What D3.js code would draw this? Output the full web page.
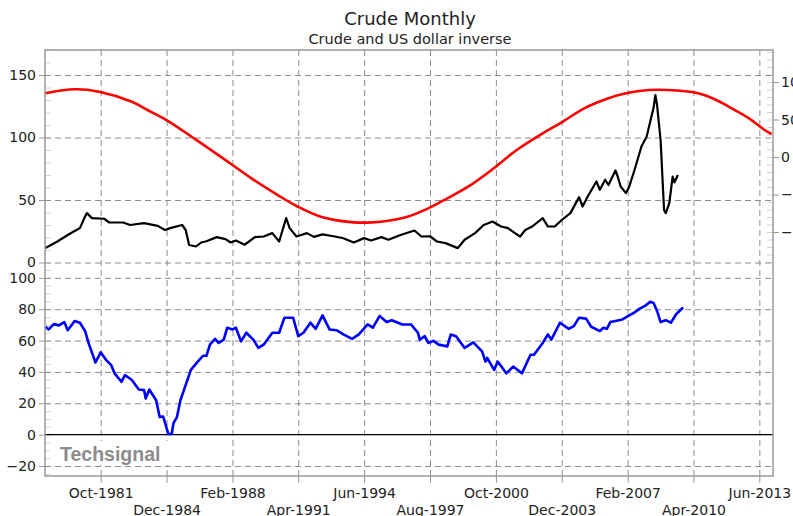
<!DOCTYPE html>
<html>
<head>
<meta charset="utf-8">
<script src="https://cdn.jsdelivr.net/npm/d3@7"></script>
<style>
body { margin: 0; background: #fff; }
svg { display: block; font-family: "DejaVu Sans", Verdana, sans-serif; }
</style>
</head>
<body>
<svg id="chart" width="793" height="516"></svg>
<script>
// crude oil, monthly (left axis, upper panel)
const crudeDates = ["1979-02","1979-09","1980-03","1980-08","1980-10","1981-01","1981-02","1981-05","1981-12","1982-03",
  "1982-11","1983-03","1983-11","1984-07","1984-11","1985-02","1985-09","1985-11","1986-01","1986-05",
  "1986-08","1986-11","1987-05","1987-10","1988-01","1988-04","1988-09","1989-03","1989-08","1990-01",
  "1990-05","1990-09","1990-11","1991-03","1991-09","1992-01","1992-06","1993-01","1993-06","1993-12",
  "1994-06","1994-10","1995-04","1995-08","1996-03","1996-11","1997-03","1997-08","1997-12","1998-05",
  "1998-12","1999-04","1999-10","2000-03","2000-08","2001-01","2001-05","2001-09","2001-12","2002-03",
  "2002-07","2003-01","2003-04","2003-08","2003-12","2004-05","2004-10","2004-12","2005-03","2005-08",
  "2005-10","2006-01","2006-03","2006-07","2006-08","2006-10","2007-01","2007-03","2007-06","2007-10",
  "2008-01","2008-05","2008-06","2008-07","2008-09","2008-11","2008-12","2009-02","2009-04","2009-05","2009-07"];
const crudeValues = [11.5,16.8,22,26,27.5,37,39.5,35.5,35,32,
  32,30,31.5,29.3,26,27.5,30,26,14,12.8,
  16,17,20.3,18.7,16,17.6,14.2,20.3,20.8,23.5,
  16.8,35.5,27.5,20.8,23.5,20.5,22.5,20.8,19.4,16,
  19.5,17.6,20.3,18.2,22,25.6,20.8,21,16.8,15.5,
  11.5,18.2,23.5,30,32.8,28.8,27.5,23.5,20.8,26,
  28.8,35.5,28.8,28.8,34,39.5,52.3,44.8,52.8,64.8,
  58.2,66.2,62,73.6,70,60.8,55.5,60.8,74,92.8,
  100.8,124,134,126,98,42,39.5,47.5,68.8,64,70];

// US dollar inverse (right axis, upper panel)
const usdDates = ["1979-02","1980-07","1981-09","1983-04","1984-01","1984-11","1986-06","1988-01","1989-01","1990-04",
  "1991-03","1992-05","1993-12","1994-11","1995-08","1996-07","1997-07","1998-06","1999-06","2000-08",
  "2001-10","2003-01","2003-11","2005-01","2006-03","2007-01","2008-02","2009-01","2010-06","2011-04",
  "2012-02","2012-12","2013-09","2014-01"];
const usdValues = [85,90.3,87.1,73.7,62.7,50.5,21.5,-9,-28.5,-50.5,
  -65.3,-79.6,-87.1,-87.1,-84.9,-79.6,-68.4,-55.1,-39.6,-16.4,
  9.3,31.6,44.9,64.9,78.3,84.9,89.3,89.3,85.3,77.3,
  64.9,51.6,36,30.7];

// Techsignal indicator (lower panel)
const oscDates = ["1979-02","1979-04","1979-07","1979-10","1980-01","1980-03","1980-07","1980-10","1981-01","1981-03",
  "1981-07","1981-10","1982-01","1982-04","1982-06","1982-10","1982-12","1983-04","1983-08","1983-11",
  "1983-12","1984-02","1984-06","1984-08","1984-10","1985-01","1985-03","1985-04","1985-06","1985-08",
  "1985-10","1986-02","1986-06","1986-09","1986-11","1987-01","1987-04","1987-06","1987-09","1987-11",
  "1988-02","1988-04","1988-07","1988-10","1989-02","1989-05","1989-08","1990-01","1990-05","1990-08",
  "1991-01","1991-04","1991-07","1991-11","1992-02","1992-06","1992-10","1993-02","1993-06","1993-11",
  "1994-03","1994-08","1994-11","1995-03","1995-07","1995-10","1996-04","1996-09","1997-01","1997-02",
  "1997-05","1997-07","1997-10","1998-01","1998-06","1998-08","1998-11","1999-04","1999-09","2000-02",
  "2000-04","2000-05","2000-09","2000-11","2001-04","2001-08","2002-01","2002-06","2002-08","2003-01",
  "2003-04","2003-06","2003-11","2004-04","2004-07","2004-10","2005-02","2005-05","2005-10","2005-12",
  "2006-02","2006-04","2006-07","2006-11","2007-03","2007-06","2007-09","2007-12","2008-03","2008-05",
  "2008-07","2008-09","2008-12","2009-03","2009-06","2009-10"];
const oscValues = [68.8,67.1,70.5,69.7,71.8,66.6,72.5,71.4,66,58.5,
  46,52.5,47.7,44.5,39.1,33.7,38,34.8,28.8,28.4,
  23,28.8,21.9,11.2,11.6,0.4,0.4,7.3,11.2,21.9,
  28.4,41.3,46.6,50.3,50.3,57.4,61.1,58.5,60.6,68.2,
  67.1,68.2,59.5,65,60.6,55.3,57.4,65,65,74.6,
  74.6,62.8,65,71.4,67.5,76.1,67.1,66.6,63.9,61.1,
  63.9,70.3,68.2,75.7,71.8,73,70.3,70.3,65,60.6,
  62.8,58.5,59.8,57.4,56.3,63.9,62.8,55.3,58.9,53.1,
  46.6,48.9,41.3,46.6,39.1,43.4,39.1,51,51,58.5,
  63.9,60.6,71.4,67.5,69.2,74.6,74,68.8,66,68.2,
  67.5,71.8,72.5,73.5,76.1,77.9,80.4,82.1,84.7,84,
  78.9,71.8,73,71.4,76.8,81.1];

const xTickDates = ["1981-10","1984-12","1988-02","1991-04","1994-06","1997-08","2000-10","2003-12","2007-02","2010-04","2013-06"];
const xTickLabels = ["Oct-1981","Dec-1984","Feb-1988","Apr-1991","Jun-1994","Aug-1997","Oct-2000","Dec-2003","Feb-2007","Apr-2010","Jun-2013"];
const upperTicks = [0, 50, 100, 150];
const lowerTicks = [-20, 0, 20, 40, 60, 80, 100];
const rightTicks = [-100, -50, 0, 50, 100];

const parse = d3.timeParse("%Y-%m");
const pLeft = 45, pRight = 773, pTop = 50, pBottom = 476, pSplit = 268;

const svg = d3.select("#chart");
svg.append("rect").attr("width", 793).attr("height", 516).attr("fill", "#fff");

const x = d3.scaleTime().domain([new Date(1979, 0, 27), new Date(2014, 0, 27)]).range([pLeft, pRight]);
const yTop = d3.scaleLinear().domain([-4.4, 170]).range([pSplit, pTop]);
const yRight = d3.scaleLinear().domain([-148, 142.7]).range([pSplit, pTop]);
const yLow = d3.scaleLinear().domain([-26.4, 106.3]).range([pBottom, pSplit]);

const gridColor = "#8c8c8c";

// minor ticks, inside the frame
function minor(scale, values, side) {
  const g = svg.append("g")
    .attr("transform", `translate(${side === "left" ? pLeft : pRight},0)`)
    .call((side === "left" ? d3.axisRight(scale) : d3.axisLeft(scale))
      .tickValues(values).tickSize(6).tickFormat(""));
  g.select(".domain").remove();
  g.selectAll("line").attr("stroke", "#d4d4d4");
}
minor(yTop, d3.range(0, 171, 10), "left");
minor(yLow, d3.range(-25, 106, 5), "left");
minor(yRight, d3.range(-140, 141, 10), "right");

// horizontal grid
function hgrid(scale, values) {
  const g = svg.append("g")
    .attr("transform", `translate(${pLeft},0)`)
    .call(d3.axisRight(scale).tickValues(values).tickSize(pRight - pLeft).tickFormat(""));
  g.select(".domain").remove();
  g.selectAll("line").attr("stroke", gridColor).attr("stroke-dasharray", "6,4");
}
hgrid(yTop, upperTicks);
hgrid(yLow, lowerTicks.filter(d => d !== 0));

// vertical grid
const vg = svg.append("g")
  .attr("transform", `translate(0,${pBottom})`)
  .call(d3.axisBottom(x).tickValues(xTickDates.map(parse)).tickSize(-(pBottom - pTop)).tickFormat(""));
vg.select(".domain").remove();
vg.selectAll("line").attr("stroke", gridColor).attr("stroke-dasharray", "6,4");

// zero line of the lower panel
svg.append("line")
  .attr("x1", pLeft).attr("x2", pRight)
  .attr("y1", yLow(0)).attr("y2", yLow(0))
  .attr("stroke", "#000").attr("stroke-width", 1.2);

// watermark
svg.append("rect").attr("x", 50).attr("y", 441).attr("width", 131).attr("height", 24).attr("fill", "#fff");
svg.append("text")
  .attr("x", 60).attr("y", 461)
  .style("font-family", "'Liberation Sans', Arial, sans-serif")
  .style("font-weight", "bold")
  .style("font-size", "19.5px")
  .attr("fill", "#8c8c8c")
  .text("Techsignal");

// series
const usdLine = d3.line().x(d => x(d[0])).y(d => yRight(d[1])).curve(d3.curveCatmullRom);
svg.append("path")
  .datum(usdDates.map((d, i) => [parse(d), usdValues[i]]))
  .attr("d", usdLine)
  .attr("fill", "none").attr("stroke", "#ff0000").attr("stroke-width", 2.6);

const crudeLine = d3.line().x(d => x(d[0])).y(d => yTop(d[1]));
svg.append("path")
  .datum(crudeDates.map((d, i) => [parse(d), crudeValues[i]]))
  .attr("d", crudeLine)
  .attr("fill", "none").attr("stroke", "#000").attr("stroke-width", 2.2)
  .attr("stroke-linejoin", "round");

const oscLine = d3.line().x(d => x(d[0])).y(d => yLow(d[1]));
svg.append("path")
  .datum(oscDates.map((d, i) => [parse(d), oscValues[i]]))
  .attr("d", oscLine)
  .attr("fill", "none").attr("stroke", "#0000ff").attr("stroke-width", 2.6)
  .attr("stroke-linejoin", "round");

// frame
svg.append("rect")
  .attr("x", pLeft).attr("y", pTop)
  .attr("width", pRight - pLeft).attr("height", pBottom - pTop)
  .attr("fill", "none").attr("stroke", "#999").attr("stroke-width", 1.5);

// left axes
function leftAxis(scale, values) {
  const g = svg.append("g")
    .attr("transform", `translate(${pLeft},0)`)
    .call(d3.axisLeft(scale).tickValues(values).tickSize(6).tickPadding(3));
  g.select(".domain").remove();
  g.selectAll("line").attr("stroke", "#999");
  g.selectAll("text").attr("fill", "#222").style("font-size", "14px").style("font-family", "'DejaVu Sans', Verdana, sans-serif");
}
leftAxis(yTop, upperTicks);
leftAxis(yLow, lowerTicks);

// right axis (labels run off the page edge, as in the source)
const ra = svg.append("g")
  .attr("transform", `translate(${pRight},0)`)
  .call(d3.axisRight(yRight).tickValues(rightTicks).tickSize(6).tickPadding(2));
ra.select(".domain").remove();
ra.selectAll("line").attr("stroke", "#999");
ra.selectAll("text").attr("fill", "#222").style("font-size", "14px").style("font-family", "'DejaVu Sans', Verdana, sans-serif");

// bottom axis, labels on two rows
const xa = svg.append("g")
  .attr("transform", `translate(0,${pBottom})`)
  .call(d3.axisBottom(x).tickValues(xTickDates.map(parse)).tickSize(7)
    .tickFormat((d, i) => xTickLabels[i]));
xa.select(".domain").remove();
xa.selectAll("line").attr("stroke", "#999");
xa.selectAll("text")
  .attr("fill", "#222")
  .style("font-size", "14px")
  .style("font-family", "'DejaVu Sans', Verdana, sans-serif")
  .attr("dy", null)
  .attr("y", (d, i) => i % 2 === 0 ? 22 : 39);

// titles
svg.append("text")
  .attr("x", 410).attr("y", 25)
  .attr("text-anchor", "middle")
  .attr("fill", "#222")
  .style("font-size", "18px")
  .text("Crude Monthly");
svg.append("text")
  .attr("x", 410).attr("y", 44)
  .attr("text-anchor", "middle")
  .attr("fill", "#222")
  .style("font-size", "14.5px")
  .text("Crude and US dollar inverse");
</script>
</body>
</html>
